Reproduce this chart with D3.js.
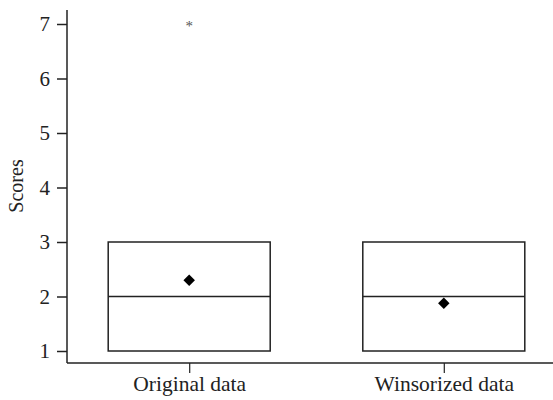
<!DOCTYPE html>
<html>
<head>
<meta charset="utf-8">
<script src="https://cdn.jsdelivr.net/npm/d3@7"></script>
<style>
  body { margin: 0; background: #fff; }
  text { font-family: "Liberation Serif", "DejaVu Serif", serif; fill: #222; }
</style>
</head>
<body>
<svg id="chart" width="553" height="400"></svg>
<script>
// Box summaries per group
const groups = ['Original data', 'Winsorized data'];
const q1 = [1, 1];
const medians = [2, 2];
const q3 = [3, 3];
const means = [2.3, 1.875];
const outliers = [[7], []];
const yTicks = [1, 2, 3, 4, 5, 6, 7];

const svg = d3.select('#chart');
const marginLeft = 67, axisBottom = 363, axisTop = 10;

const y = d3.scaleLinear().domain([1, 7]).range([351, 24]);
const x = d3.scalePoint().domain(groups).range([marginLeft, 566]).padding(0.48);
const boxW = 162;

// y axis
const yAxis = svg.append('g')
  .attr('transform', `translate(${marginLeft},0)`)
  .call(d3.axisLeft(y).tickValues(yTicks).tickSize(10).tickPadding(7).tickFormat(d3.format('d')));
yAxis.select('.domain').remove();
yAxis.selectAll('line').attr('stroke', '#222').attr('stroke-width', 1.5);
yAxis.selectAll('text').attr('font-size', 21).attr('font-family', null);
svg.append('line')
  .attr('x1', marginLeft).attr('x2', marginLeft).attr('y1', axisTop).attr('y2', axisBottom)
  .attr('stroke', '#222').attr('stroke-width', 1.5);

// x axis
const xAxis = svg.append('g')
  .attr('transform', `translate(0,${axisBottom})`)
  .call(d3.axisBottom(x).tickSize(10).tickPadding(3));
xAxis.select('.domain').remove();
xAxis.selectAll('line').attr('stroke', '#222').attr('stroke-width', 1.2);
xAxis.selectAll('text').attr('font-size', 21.5).attr('font-family', null);
svg.append('line')
  .attr('x1', marginLeft).attr('x2', 553).attr('y1', axisBottom).attr('y2', axisBottom)
  .attr('stroke', '#222').attr('stroke-width', 1.5);

svg.append('text')
  .attr('transform', `translate(23,186) rotate(-90)`)
  .attr('text-anchor', 'middle')
  .attr('font-size', 20)
  .text('Scores');

// boxes
const boxes = svg.selectAll('.box').data(groups).enter().append('g').attr('class', 'box');
boxes.append('rect')
  .attr('x', (d) => x(d) - boxW / 2)
  .attr('width', boxW)
  .attr('y', (d, i) => y(q3[i]))
  .attr('height', (d, i) => y(q1[i]) - y(q3[i]))
  .attr('fill', 'none').attr('stroke', '#222').attr('stroke-width', 1.5);
boxes.append('line')
  .attr('x1', (d) => x(d) - boxW / 2)
  .attr('x2', (d) => x(d) + boxW / 2)
  .attr('y1', (d, i) => y(medians[i]))
  .attr('y2', (d, i) => y(medians[i]))
  .attr('stroke', '#222').attr('stroke-width', 1.5);
boxes.append('path')
  .attr('d', d3.symbol(d3.symbolSquare, 66))
  .attr('transform', (d, i) => `translate(${x(d)},${y(means[i])}) rotate(45)`)
  .attr('fill', '#000');

// outliers
groups.forEach((g, i) => {
  svg.selectAll(null).data(outliers[i]).enter().append('text')
    .attr('x', x(g)).attr('y', (d) => y(d) + 7)
    .attr('text-anchor', 'middle')
    .attr('font-size', 15)
    .style('fill', '#555')
    .text('*');
});
</script>
</body>
</html>
